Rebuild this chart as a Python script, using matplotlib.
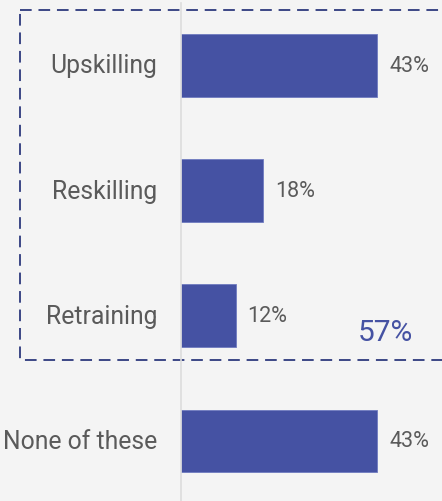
import matplotlib.pyplot as plt
from matplotlib.patches import Rectangle

plt.rcParams['font.family'] = ['Roboto', 'DejaVu Sans']

categories = ['Upskilling', 'Reskilling', 'Retraining', 'None of these']
shares = [43, 18, 12, 43]
net_label = '57%'

bg = '#f4f4f4'
bar_color = '#4552a3'
text_color = '#5a5a5a'

fig = plt.figure(figsize=(4.42, 5.02), dpi=100, facecolor=bg)
ax = fig.add_axes([181 / 442, 0, 1 - 181 / 442, 1])
ax.set_facecolor(bg)

pos = list(range(len(categories)))
ax.barh(pos, shares, height=0.5, color=bar_color, edgecolor='#6f7bc0', linewidth=0.6)

for y, v, name in zip(pos, shares, categories):
    ax.text(v + 2.6, y, f'{v}%', va='center', ha='left', fontsize=15.5,
            color=text_color)
    ax.text(-5.2, y, name, va='center', ha='right', fontsize=17.8,
            color=text_color)

ax.set_xlim(0, 57.2)
ax.set_ylim(3.48, -0.53)
ax.axis('off')

# thin divider at the bar origin
ax.plot([0, 0], [3.48, -0.50], color='#dcdcdc', lw=1.2, clip_on=False)

# dashed outline around the grouped training options
box = Rectangle((-35.3, -0.44), 200, 2.79, fill=False, ls=(0, (6, 3.5)),
                lw=1.4, edgecolor='#3b4786', clip_on=False)
ax.add_patch(box)
ax.text(44.8, 2.13, net_label, ha='center', va='center', fontsize=21.5,
        color=bar_color)

fig.savefig('out.png', dpi=100, facecolor=bg)
